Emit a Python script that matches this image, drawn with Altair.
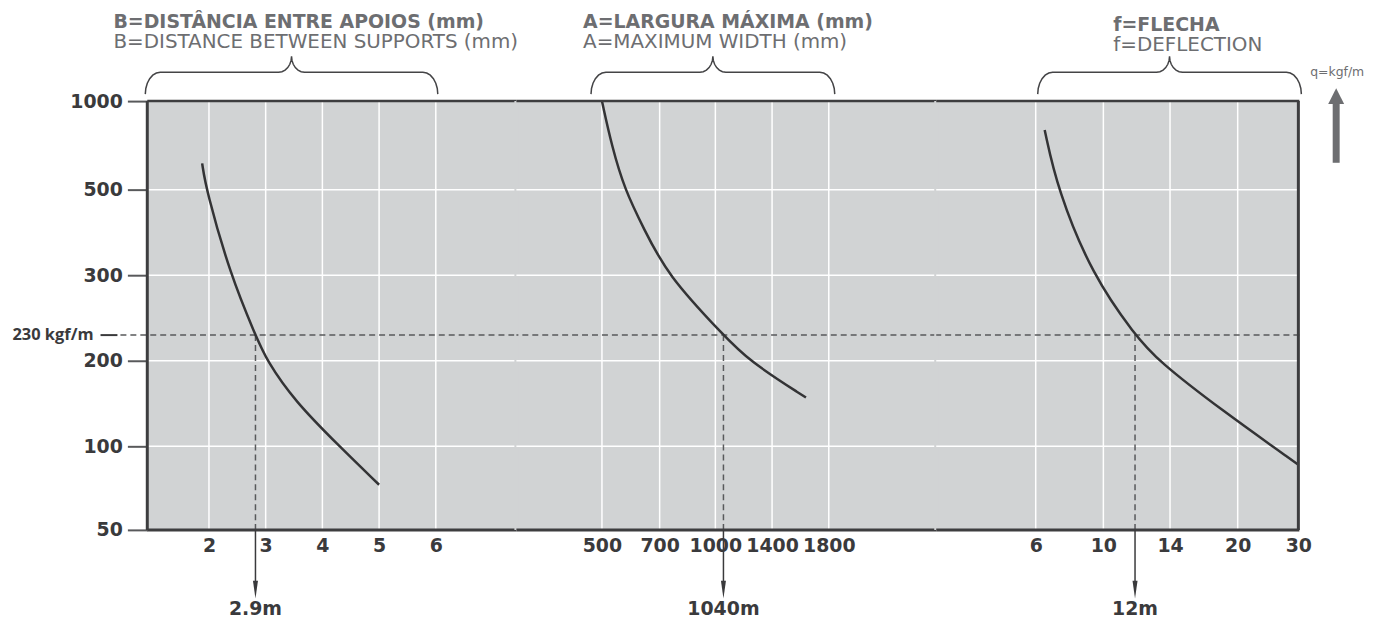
import math
import altair as alt
import pandas as pd

# ---------------- data ----------------
B_DIST = [1.88, 1.95, 2.38, 2.82, 3.02, 3.51, 4.30, 5.0]
Q_B = [648, 500, 300, 230, 200, 153, 100, 77]

A_WIDTH = [500, 534, 579, 645, 742, 1057, 1235, 1639]
Q_A = [1000, 747, 500, 409, 300, 230, 200, 157]

F_DEFL = [6.53, 7.29, 9.35, 11.9, 13.28, 18.5, 30]
Q_F = [837, 500, 300, 230, 200, 143, 89]

B_TICKS = [2, 3, 4, 5, 6]
A_TICKS = [500, 700, 1000, 1400, 1800]
F_TICKS = [6, 10, 14, 20, 30]
Q_TICKS = [50, 100, 200, 300, 500, 1000]
Q_GRID = [100, 200, 300, 500]

Q_REF = 230
Q_REF_LABEL = "230 kgf/m"
X_AT_REF = [2.82, 1057, 11.9]
RESULT_LABELS = ["2.9m", "1040m", "12m"]
TITLES_PT = ["B=DISTÂNCIA ENTRE APOIOS (mm)", "A=LARGURA MÁXIMA (mm)", "f=FLECHA"]
TITLES_EN = ["B=DISTANCE BETWEEN SUPPORTS (mm)", "A=MAXIMUM WIDTH (mm)", "f=DEFLECTION"]
Q_UNIT = "q=kgf/m"

# ---------------- layout / style ----------------
H = 431
WIDTHS = [371, 422, 365]
X_DOMAINS = [[2, 6], A_TICKS, F_TICKS]
X_RANGES = [[62, 290], [86, 144, 200, 257, 314], [100, 168, 235, 303, 364]]
Y_RANGE = [431, 347, 261, 175, 89, 0]
TITLE_POS = [(-34, -73, -53), (67, -73, -53), (178, -70, -50)]
BRACE_POS = [(-2, 292), (75, 320), (102, 367)]

BG = "#d1d3d4"
FRAME = "#3d3d3f"
CURVE = "#333335"
DASH = "#58595b"
GREY = "#6d6e71"
INK = "#3a3a3c"
NUM_FONT = "DejaVu Sans"


def brace_df(span):
    r_end = 15.0 / span
    r_mid = 13.0 / span
    vb = 22.0 / 38.0
    angles = [0, 15, 30, 45, 60, 75, 90]
    left = []
    for a in angles:
        th = math.radians(a)
        left.append((r_end * (1 - math.cos(th)), vb * math.sin(th)))
    for a in angles:
        th = math.radians(a)
        left.append((0.5 - r_mid + r_mid * math.sin(th), vb + (1 - vb) * (1 - math.cos(th))))
    right = [(1 - t, v) for (t, v) in reversed(left)]
    pts = left + right
    return pd.DataFrame({"i": list(range(len(pts))), "t": [p[0] for p in pts], "v": [p[1] for p in pts]})


one = pd.DataFrame({"k": [0]})


def panel(i, xs, qs, ticks):
    W = WIDTHS[i]
    xscale = alt.Scale(domain=X_DOMAINS[i], range=X_RANGES[i], zero=False, nice=False)
    yscale = alt.Scale(domain=Q_TICKS, range=Y_RANGE, zero=False, nice=False)
    xaxis = alt.Axis(values=ticks, title=None, domain=False, ticks=False, labelPadding=7,
                     grid=False, labelFlush=False, labelOverlap=False, format="d")
    if i == 0:
        yaxis = alt.Axis(values=Q_TICKS, title=None, domain=False, ticks=True, tickSize=20,
                         tickColor="#58595b", tickWidth=2, labelPadding=5, grid=False,
                         labelFlush=False, labelOverlap=False, format="d")
    else:
        yaxis = alt.Axis(values=Q_TICKS, title=None, domain=False, ticks=False,
                         labels=False, grid=False, domainColor="transparent",
                         tickColor="transparent")

    layers = []
    # cover anti-aliased seams between neighbouring panel backgrounds
    if i > 0:
        layers.append(alt.Chart(one).mark_rule(color=BG, strokeWidth=4).encode(
            x=alt.value(0), y=alt.value(0), y2=alt.value(H)))
    if i < 2:
        layers.append(alt.Chart(one).mark_rule(color=BG, strokeWidth=4).encode(
            x=alt.value(W), y=alt.value(0), y2=alt.value(H)))
    # grid
    layers.append(alt.Chart(pd.DataFrame({"x": ticks})).mark_rule(color="white", strokeWidth=1.5).encode(
        x=alt.X("x:Q", scale=xscale, axis=xaxis)))
    layers.append(alt.Chart(pd.DataFrame({"q": Q_GRID})).mark_rule(color="white", strokeWidth=1.5).encode(
        y=alt.Y("q:Q", scale=yscale, axis=yaxis)))

    # horizontal reference line at 230
    if i == 0:
        ref = alt.Chart(one).mark_rule(color=DASH, strokeWidth=1.5, strokeDash=[6, 4]).encode(
            y=alt.datum(Q_REF), x=alt.value(-27), x2=alt.value(W))
    else:
        ref = alt.Chart(one).mark_rule(color=DASH, strokeWidth=1.5, strokeDash=[6, 4]).encode(
            y=alt.datum(Q_REF))
    layers.append(ref)

    # vertical dashed drop line
    layers.append(alt.Chart(one).mark_rule(color=DASH, strokeWidth=1.5, strokeDash=[6, 4]).encode(
        x=alt.datum(X_AT_REF[i]), y=alt.datum(Q_REF), y2=alt.datum(50)))

    # the curve
    df = pd.DataFrame({"x": xs, "q": qs})
    layers.append(alt.Chart(df).mark_line(color=CURVE, strokeWidth=2.5, interpolate="basis").encode(
        x=alt.X("x:Q", scale=xscale, axis=xaxis),
        y=alt.Y("q:Q", scale=yscale, axis=yaxis),
    ))

    # frame
    layers.append(alt.Chart(one).mark_rule(color=FRAME, strokeWidth=2.5).encode(y=alt.datum(1000)))
    layers.append(alt.Chart(one).mark_rule(color=FRAME, strokeWidth=3).encode(y=alt.datum(50)))
    if i == 0:
        layers.append(alt.Chart(one).mark_rule(color=FRAME, strokeWidth=3).encode(
            x=alt.value(0), y=alt.value(0), y2=alt.value(H)))
    if i == 2:
        layers.append(alt.Chart(one).mark_rule(color=FRAME, strokeWidth=3).encode(x=alt.datum(30)))

    # arrow below the axis + result label
    layers.append(alt.Chart(one).mark_rule(color=INK, strokeWidth=1.5).encode(
        x=alt.datum(X_AT_REF[i]), y=alt.value(H), y2=alt.value(H + 56)))
    layers.append(alt.Chart(one).mark_point(shape="M-0.28,-1L0.28,-1L0,1Z", size=324, filled=True,
                                            color=INK, opacity=1, strokeWidth=0).encode(
        x=alt.datum(X_AT_REF[i]), y=alt.value(H + 60)))
    layers.append(alt.Chart(pd.DataFrame({"s": [RESULT_LABELS[i]]})).mark_text(
        font=NUM_FONT, fontWeight="bold", fontSize=19, color=INK, baseline="alphabetic",
        align="center").encode(x=alt.datum(X_AT_REF[i]), y=alt.value(H + 86), text="s:N"))

    # titles
    tx, ty1, ty2 = TITLE_POS[i]
    layers.append(alt.Chart(pd.DataFrame({"s": [TITLES_PT[i]]})).mark_text(
        font="DejaVu Sans", fontWeight="bold", fontSize=19, color=GREY, align="left",
        baseline="alphabetic").encode(x=alt.value(tx), y=alt.value(ty1), text="s:N"))
    layers.append(alt.Chart(pd.DataFrame({"s": [TITLES_EN[i]]})).mark_text(
        font="DejaVu Sans", fontSize=20, color=GREY, align="left",
        baseline="alphabetic").encode(x=alt.value(tx), y=alt.value(ty2), text="s:N"))

    if i == 0:
        layers.append(alt.Chart(pd.DataFrame({"s": [Q_REF_LABEL]})).mark_text(
            font="Open Sans", fontWeight="bold", fontSize=16.5, color=INK, align="right",
            baseline="middle").encode(x=alt.value(-54), y=alt.datum(Q_REF), text="s:N"))
        layers.append(alt.Chart(one).mark_rule(color=INK, strokeWidth=2).encode(
            x=alt.value(-47), x2=alt.value(-30), y=alt.datum(Q_REF)))
    if i == 2:
        layers.append(alt.Chart(pd.DataFrame({"s": [Q_UNIT]})).mark_text(
            font="DejaVu Sans", fontSize=12.5, color=GREY, align="center",
            baseline="alphabetic").encode(x=alt.value(403), y=alt.value(-25), text="s:N"))
        layers.append(alt.Chart(one).mark_rule(color=GREY, strokeWidth=7).encode(
            x=alt.value(402), y=alt.value(2), y2=alt.value(62)))
        layers.append(alt.Chart(one).mark_point(shape="M0,-1L1,1L-1,1Z", size=256, filled=True,
                                                color=GREY, opacity=1, strokeWidth=0).encode(
            x=alt.value(402), y=alt.value(-5)))

    main = alt.layer(*layers)

    bx0, bx1 = BRACE_POS[i]
    brace = alt.Chart(brace_df(bx1 - bx0)).mark_line(color="#444446", strokeWidth=1.5).encode(
        x=alt.X("t:Q", scale=alt.Scale(domain=[0, 1], range=[bx0, bx1], zero=False, nice=False), axis=None),
        y=alt.Y("v:Q", scale=alt.Scale(domain=[0, 1], range=[-7, -45], zero=False, nice=False), axis=None),
        order=alt.Order("i:Q"),
    )
    return alt.layer(main, brace).resolve_scale(x="independent", y="independent").properties(
        width=W, height=H)


p1 = panel(0, B_DIST, Q_B, B_TICKS)
p2 = panel(1, A_WIDTH, Q_A, A_TICKS)
p3 = panel(2, F_DEFL, Q_F, F_TICKS)

chart = alt.hconcat(p1, p2, p3, spacing=0, bounds="flush").resolve_scale(
    x="independent", y="independent"
).properties(
    padding={"left": 4, "top": 4, "right": 5, "bottom": 0}
).configure_view(
    fill=BG, stroke="transparent", strokeWidth=0, strokeOpacity=0
).configure_axis(
    labelFont=NUM_FONT, labelFontSize=19, labelFontWeight="bold", labelColor=INK
)

chart.save("out.html", embed_options={"renderer": "svg", "actions": False})
